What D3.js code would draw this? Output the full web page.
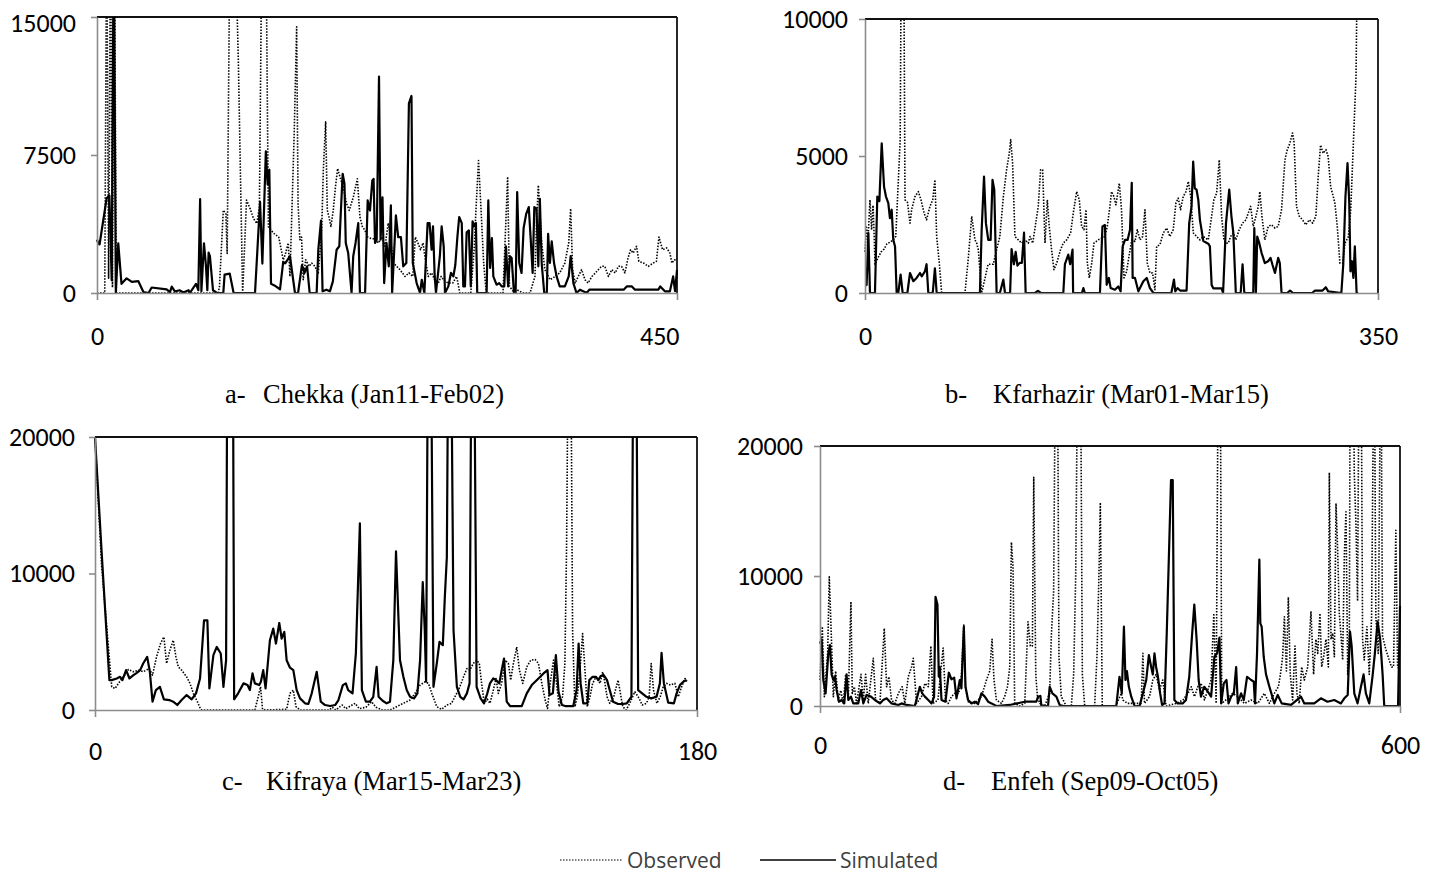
<!DOCTYPE html>
<html>
<head>
<meta charset="utf-8">
<script src="https://cdn.jsdelivr.net/npm/d3@7"></script>
<style>
  html, body { margin: 0; padding: 0; background: #ffffff; }
  svg { display: block; }
</style>
</head>
<body>
<svg id="chart" width="1431" height="875"></svg>
<script>
// ---- Discharge series: [time step, flow] ----
const chekkaObserved = [[0,0],[6,0],[7.5,20000],[9,800],[10.5,20000],[12,300],[13.5,20000],[15,0],[94,0],[95,340],[98,4500],[100,4300],[101,2150],[103.2,20000],[107,20000],[109.7,12500],[113,0],[116,5050],[118.7,4600],[121.4,4050],[124,3780],[126,4670],[128,20000],[131,20000],[133,3600],[137,3250],[141,3040],[144.5,1800],[146,2080],[148.4,2720],[149.7,900],[153,8680],[154.9,14470],[156,4850],[157.4,2900],[158.7,3040],[160,720],[161.9,1810],[164.5,1450],[166.5,1630],[169,1450],[171.7,1090],[174.3,3400],[175.6,6670],[177.4,9300],[178.7,4490],[180,4130],[181.5,3620],[183.3,4490],[185,5760],[186.7,6760],[188.5,6310],[191,5760],[193.7,4850],[195.7,4490],[198.9,5220],[202,6210],[204,4130],[205.8,3620],[207.9,3400],[210,3040],[213,2950],[215.7,2950],[218.3,2720],[221,3040],[223.4,2540],[226,3800],[228,2720],[230,1630],[232.5,1450],[235,1270],[239,900],[242,1090],[245,900],[247,3040],[249,2720],[251,2350],[253,2720],[254,2170],[257,900],[259.6,1090],[262,720],[264.8,540],[267,900],[270,630],[272.6,540],[276,540],[279,900],[281.5,0],[290,0],[292.6,2350],[294,4490],[296,7200],[298,4490],[300,1630],[302,0],[315,0],[316.5,2630],[318.6,6320],[320,360],[323,90],[325.6,180],[328,90],[330.8,0],[336,0],[339.8,900],[341,3800],[342.4,5860],[343.6,4490],[345,2720],[347.5,1270],[351.5,720],[355.5,900],[359,1090],[363,1630],[366,2720],[367.5,4580],[369,1270],[371,540],[373.4,900],[376,1270],[378.6,720],[381,540],[384,900],[386.7,1090],[389,1270],[391.5,1450],[394,1450],[396.8,900],[399.4,1270],[402,1090],[404.6,1450],[407,1450],[409.6,1090],[412,1900],[414,2350],[416,2170],[418.6,2540],[420.4,1720],[424,1630],[427.7,1450],[431.6,1630],[434,1720],[436,3040],[438.8,2350],[442,2450],[444.5,2170],[446,1630],[448,1810],[450,1750]];

const chekkaSimulated = [[0,2900],[1,2700],[2,2650],[7.5,5150],[9.6,5300],[11.4,700],[13,20000],[14.6,0],[16.5,2700],[19,500],[23,800],[27,600],[32,650],[36,50],[40,0],[42.4,300],[54,200],[56.6,50],[58,350],[60.5,80],[64,150],[67,30],[71,150],[72,0],[76.8,500],[78.6,150],[80,5100],[81,100],[83,2700],[84.5,1500],[85.6,150],[86.6,2200],[87.6,2000],[90,150],[93,0],[98,0],[99,1000],[103,1050],[106,0],[122.6,0],[126.5,4950],[128.3,1600],[131,7700],[132.4,5900],[133.7,6700],[135,500],[138,400],[142,200],[144.5,1700],[146,1610],[149.7,2000],[153.6,0],[156,0],[159,1520],[161,1090],[163,1450],[165,0],[170.4,0],[171.7,2350],[173.8,3940],[175,90],[178,180],[180.7,90],[183,630],[185.9,2350],[188,2540],[189,4130],[190.6,6480],[192,5940],[193,2720],[194.9,2170],[197.5,0],[198.8,2000],[200.6,2720],[202.7,3800],[204,0],[208,0],[210,5030],[211.8,4490],[213.6,6120],[214.6,6200],[215.7,2720],[217,2900],[218.8,11760],[220,2900],[221.5,5200],[222.8,540],[224.6,2720],[226.4,1450],[228,4760],[229,0],[231.9,4220],[233.7,3040],[235.8,3040],[237.6,1450],[240,1630],[242,10310],[244,10710],[245,1630],[248,540],[250.6,0],[252,720],[254,0],[256.5,3800],[258,3800],[259.6,2350],[260.7,3620],[262,900],[263,0],[266,2000],[267.4,3620],[269,2540],[270,0],[272.6,360],[274.6,1090],[276.5,900],[278,1520],[279.6,3040],[281,4130],[283,3800],[284.2,360],[285.5,360],[286.8,3300],[288.5,3400],[290,360],[291.4,3900],[292.6,3620],[294,3800],[295,0],[302.3,0],[303.6,5030],[305,1360],[306.4,2990],[307.5,900],[310,450],[312,540],[314,360],[316,360],[317.3,2540],[319,360],[320.4,2000],[321.7,1900],[323.5,0],[324.8,0],[326,5490],[327.6,1630],[329.4,1090],[331,3530],[333,4300],[335,4670],[336.4,3040],[338,1090],[339.3,4670],[341,4580],[342.4,1450],[343.6,5120],[345,1630],[347,0],[349,0],[350,3220],[351.4,1630],[352.8,2810],[354.6,1630],[356.6,900],[359,360],[363,360],[366,900],[367.5,2000],[369.6,540],[372,0],[374.7,180],[380,0],[382,180],[388,180],[408.6,180],[411,360],[415,360],[417.4,180],[435.5,180],[437,360],[440.6,90],[444.5,90],[447,900],[448.5,100],[450,1250]];

const kfarhazirObserved = [[0,1500],[1,2400],[2,1900],[3.4,3400],[4.5,2300],[5.5,3200],[6.2,2200],[6.8,1050],[9,1300],[11,1500],[13,1600],[15,1800],[17,1850],[19.3,1940],[21,2070],[24,5580],[25,15000],[26.2,15000],[27.3,3400],[29,3300],[30.7,2550],[31.8,3040],[34.1,3520],[36.4,3700],[38.2,3400],[40.3,2920],[42,2670],[44.3,3160],[46.2,3400],[47.7,4130],[48.9,2060],[50.7,1090],[52.3,0],[68.2,0],[70.5,1280],[72.8,2800],[73.9,2370],[75,1940],[76.2,1820],[77.3,1580],[79.6,0],[84,1050],[87.5,1050],[89.8,1580],[92,2060],[94.4,3520],[96.6,4500],[98.5,5120],[99.4,5600],[100.7,4740],[102.3,2060],[104.6,1940],[106.9,1820],[109.1,1940],[111.4,1820],[112.6,2060],[114.4,1820],[116,2370],[118.2,3160],[119.8,4500],[121.2,4500],[122.8,1820],[124.4,3400],[125.7,2430],[127.3,1580],[128.9,850],[130.8,1090],[133.4,1580],[135.3,1820],[137.6,1940],[140.3,2190],[142.1,2920],[144.4,3700],[146.2,3400],[147.8,2430],[149.4,2310],[150.8,3040],[151.7,1090],[153,550],[154.7,1090],[156.2,1820],[159.2,1940],[161.5,2000],[163.7,2060],[165.3,2430],[167.1,3160],[168.2,3700],[169.8,3520],[171.2,3220],[173.5,4010],[175,3040],[176.7,550],[178.5,790],[180.3,1400],[182,1940],[184.2,1880],[185.8,2310],[187.6,1940],[189.4,2060],[191,3040],[192.6,1090],[194.4,730],[196.2,730],[197.8,120],[199,1700],[201.2,1760],[203.5,2190],[205.8,2370],[208,2060],[210.3,2310],[212.1,3280],[213.7,3460],[215.3,3040],[217.1,3520],[219,3700],[220.6,4070],[222.2,3520],[224,2190],[226.3,2060],[228.5,1940],[230.8,2060],[234.2,1940],[236.5,2800],[238,3400],[239.9,3640],[241.7,4860],[243.3,2800],[244.9,1940],[246.3,1820],[247.9,1820],[249.4,2060],[251.3,2190],[253,1940],[255.3,2310],[257.6,2550],[259.9,2670],[261.5,2920],[263.1,3160],[264.9,2430],[266.7,2800],[268.3,3160],[269.4,3700],[270.8,2800],[272.8,1940],[275.1,2430],[277.4,2490],[279.7,2370],[281.9,2430],[284.2,3040],[286.5,4860],[288.1,5230],[289.9,5470],[291.7,5840],[292.8,5470],[294.4,3160],[296.3,2800],[298.5,2670],[300.8,2490],[303.1,2670],[305.4,2550],[307.6,2800],[309.2,4250],[310.8,5400],[312.6,5100],[314.5,5230],[316,4980],[317.7,3880],[319.5,3520],[320.6,3280],[322.2,2430],[324,1090],[325.9,1090],[327.5,1820],[329.8,2060],[331.4,3040],[333.2,5470],[335,7900],[336.5,15000]];

const kfarhazirSimulated = [[0,290],[1.1,290],[2.3,2190],[3.4,0],[6.8,0],[8.4,3520],[9.8,3350],[11.4,5460],[13,3880],[14.3,3520],[15.9,3280],[17,2730],[18.2,3040],[19.3,1940],[20.5,1700],[21.6,0],[22.7,0],[24.3,670],[25.7,0],[28.9,0],[30.7,730],[33,430],[35.2,550],[37.5,730],[38.7,610],[40.9,790],[42,1050],[43.2,0],[46.2,0],[47.7,900],[48.9,0],[78.4,0],[79.6,2310],[81.2,4250],[82.5,2550],[84.1,1940],[85.7,1940],[87,4130],[88.2,3770],[89.8,0],[92,0],[94.4,490],[95.5,0],[99,0],[100,1600],[101.6,1050],[102.8,1500],[104,1000],[105.5,1100],[107,1100],[108.5,2200],[109.6,0],[116,0],[118,80],[120,0],[135.3,0],[136.4,1050],[138.7,1400],[140,1050],[141.6,1580],[142,0],[148,0],[149,180],[150,0],[160.3,0],[162,2430],[163.7,2480],[164.9,300],[166.4,550],[167.6,180],[170.5,120],[172.8,240],[174.4,60],[175.8,1700],[177.4,1940],[179.2,1940],[180.8,2310],[182,4020],[182.6,550],[184.2,550],[186.5,60],[189.9,430],[192.2,550],[194.4,180],[196.8,0],[209,0],[210.8,490],[211.7,60],[213.2,180],[215,90],[219.4,90],[221.2,2550],[222.8,3160],[223.9,4800],[225,3820],[226.2,3770],[227.4,3400],[228.5,2670],[229.6,2310],[230.8,1900],[234.2,1800],[235.3,1700],[236.5,290],[237.6,170],[243.3,170],[244.3,0],[246.3,2550],[248.5,3770],[250,2800],[251.3,2190],[253,0],[256.3,0],[257.6,1050],[258.8,0],[264.9,0],[265.6,2370],[266.7,0],[267.6,2060],[269,1820],[270.6,1460],[272.8,1090],[275,1160],[276.7,1280],[278,1030],[279.7,730],[281.9,1280],[283,1090],[284.2,0],[288,0],[290,85],[292,0],[305,0],[307,85],[312,85],[314.4,210],[316,60],[325,0],[326.3,1050],[327.8,3520],[329.2,4740],[330.4,3280],[331.2,790],[332.2,1160],[333.2,550],[334.2,1700],[335.4,0],[336.5,0]];

const kifrayaObserved = [[0,20000],[2,10500],[5,1700],[6,1580],[7,1950],[8.5,2430],[10,2970],[11.5,2800],[13,2920],[14.4,2800],[16.2,3040],[17.2,2555],[18.4,3890],[19.6,4870],[20.6,5350],[21.4,3410],[22.4,4380],[23.4,5110],[24.2,3890],[24.9,3160],[25.9,2920],[27.4,2430],[28.4,1950],[29.4,1220],[30.6,610],[31.6,50],[32,0],[47.8,0],[48.8,970],[49.5,1700],[50.1,50],[51,0],[57.3,50],[58.3,1220],[59.3,1460],[60.1,240],[61.3,0],[70,0],[71,200],[72,0],[73.9,365],[75,100],[77.8,490],[79,100],[81,200],[82.7,610],[84,200],[86,0],[88.2,0],[92.2,490],[94.2,730],[95.7,1220],[97.2,1825],[98.7,2070],[99.7,1950],[100.7,1220],[102.2,240],[103.6,50],[105.2,365],[106.6,490],[107.6,970],[108.7,1460],[110.2,2430],[111.2,3040],[112.1,2920],[113.1,3410],[114.1,3650],[114.9,3410],[115.6,1950],[116.4,490],[117.3,800],[118.1,490],[119.1,1460],[119.9,2310],[120.6,1220],[121.6,1950],[122.6,3650],[123.6,3410],[124.3,2190],[125.1,3410],[126.1,4620],[126.9,2920],[127.9,1950],[129.1,3160],[130.3,3650],[131.6,3700],[132.6,3410],[133.6,1950],[134.6,730],[135.3,120],[136.1,1950],[137.1,3650],[138,1950],[138.8,240],[139.8,970],[140.5,3410],[141,11920],[141.6,30000],[142.2,30000],[142.8,5840],[143.5,240],[144.2,970],[145,2920],[145.8,5600],[146.5,2920],[147.2,240],[148,970],[148.8,1950],[149.8,2430],[151,1950],[151.8,2800],[152.5,1950],[153.1,970],[153.9,490],[155.1,970],[156.4,2190],[157.1,1220],[157.8,240],[158.8,0],[159.9,490],[161.4,1340],[162.7,850],[163.6,365],[164.9,490],[165.7,970],[166.3,3410],[167,1460],[168,490],[169,970],[169.9,1700],[170.9,1950],[172.1,1825],[173.4,1950],[174.4,970],[175.4,1700],[176.4,2310],[177,2100]];

const kifrayaSimulated = [[0,20000],[2,11500],[4.3,2190],[5,2190],[6.5,2310],[7.5,2430],[8.2,2190],[9.3,2920],[10.3,2310],[11.5,2555],[12.5,2725],[13.5,2920],[14.4,3410],[15.6,3890],[16.4,2800],[17.2,610],[18.2,1460],[19.4,1700],[20.6,780],[22.2,730],[23.4,610],[24.6,365],[25.9,730],[27.4,1095],[28.9,780],[30.2,1220],[31.4,2310],[32.6,6570],[33.6,6570],[34.2,1580],[35.4,4015],[36.4,4620],[37.6,4140],[38.4,1700],[39.2,3650],[39.6,30000],[41.2,30000],[41.6,780],[42.8,1220],[44.4,1950],[45.6,1825],[46.3,1460],[47.1,2680],[47.8,1950],[49.1,1825],[49.6,2070],[50.3,2920],[51,1580],[52.3,5110],[53.3,5960],[54.1,4870],[55.1,6375],[55.8,5230],[56.6,5720],[57.3,3650],[58.3,3100],[59.3,2920],[60.3,1460],[61.3,850],[62.8,490],[63.8,440],[64.8,1220],[66.3,2800],[67.5,610],[68.8,365],[70.3,290],[71.8,365],[72.8,730],[74.1,1825],[75,1950],[75.7,1460],[77,1220],[78,4140],[79.2,13670],[79.8,1460],[81,610],[82.2,610],[83.2,970],[84.2,3160],[84.8,970],[86,680],[87.2,490],[88.2,610],[89.2,3650],[90,11630],[91.2,3650],[92.2,2430],[93.2,1460],[94.2,970],[95.4,850],[96.4,1220],[97.2,3650],[98,9370],[98.6,5840],[99,2070],[99.6,30000],[100.4,30000],[101.2,1700],[102.2,3410],[103,4990],[104,4750],[104.6,8270],[105.2,11190],[105.7,30000],[106.4,30000],[107.2,5840],[108.2,1700],[109.2,970],[110.2,780],[111.2,1220],[112,1950],[112.6,30000],[113.3,30000],[114.1,1700],[115.3,850],[116.3,490],[117.3,1220],[118.1,1950],[119.1,2310],[119.9,2190],[120.9,1950],[121.6,2920],[122.3,3770],[123.1,610],[124.1,290],[127.6,290],[129.1,1220],[130.6,1825],[132.6,2310],[134.1,2680],[135.3,2920],[135.9,1095],[136.9,1220],[137.8,4015],[138.6,1340],[139.6,365],[140.6,290],[143,290],[144,1460],[144.6,4870],[145.2,1950],[146,490],[147.2,490],[147.8,2190],[148.8,2430],[149.8,2430],[150.5,2190],[151.2,2480],[152.1,2555],[153.1,2190],[153.9,1460],[154.9,610],[156.4,440],[157.8,440],[159,490],[160.4,970],[161,30000],[161.8,30000],[162.4,1460],[163.6,1220],[164.9,970],[166.3,850],[167.9,970],[168.9,1950],[169.4,4190],[170.1,1950],[171.4,535],[173.1,490],[173.9,1220],[174.9,1825],[175.9,2070],[176.9,2190]];

const enfehObserved = [[0,2000],[2.4,6100],[4.5,720],[7.9,4050],[9.6,9940],[11.4,6100],[13.8,720],[16.2,2690],[18.9,460],[21.5,1200],[24.1,200],[26.5,2430],[29.3,720],[32,8020],[33.4,970],[35.5,1480],[37.9,200],[42.4,2430],[44.8,460],[47.2,2430],[49.9,200],[55.1,3670],[57.5,460],[62,200],[63.7,2430],[66.5,5970],[68.9,1480],[71.3,2250],[74,460],[77.5,200],[81,970],[85,1480],[87.8,200],[91.3,2250],[94.7,3000],[96.5,3670],[98.1,2000],[99.9,200],[105,720],[108.5,1740],[112,1480],[114.7,4610],[117,200],[122,460],[125,2690],[127.4,4460],[129.8,460],[132.6,200],[136,720],[139.5,970],[143.6,970],[146.3,2430],[148.8,6230],[150.5,1480],[153.2,330],[160.1,200],[167,720],[172.2,2000],[175.6,2690],[178,5130],[180,2000],[182.5,460],[187.7,200],[191,720],[193.9,1480],[196.3,3000],[198,12600],[199.7,10700],[201.4,200],[206.6,0],[211.8,200],[215.2,6480],[217.6,4610],[219.7,4610],[221.1,17600],[223.2,2430],[224.9,720],[227.3,200],[232.4,0],[237.6,970],[239.3,5380],[241.7,8840],[243.8,30000],[245.5,30000],[247.2,3790],[249.6,720],[254.8,0],[260,0],[262.4,2430],[264.5,9940],[266.9,30000],[269.3,30000],[271.4,2430],[273.8,0],[284.1,0],[286.5,3790],[288.6,10200],[290,15640],[292,0],[306,0],[311.6,970],[313.4,460],[318,200],[332.3,200],[334,4050],[335.7,200],[340.9,720],[344.3,2000],[347.7,2430],[351.2,1230],[354.6,2000],[358,0],[368.6,200],[375.4,460],[380.7,970],[384,1480],[387.4,720],[390.8,1480],[394.3,1740],[397.7,460],[404.6,2000],[407.4,7120],[409.8,200],[412.2,30000],[413.9,30000],[415.6,200],[421.8,590],[427,970],[432.2,720],[439,200],[446,460],[452.9,200],[459.6,970],[464.9,200],[470,970],[474.2,1480],[476.3,2430],[478.6,3790],[480.4,6870],[482.5,2690],[484.5,8380],[486.5,2430],[488.9,460],[491.4,4610],[493.4,970],[495.8,200],[498.3,3000],[501,2000],[504.5,3000],[507.9,7250],[510.6,2430],[513,5130],[514.9,4050],[517.2,7120],[519,3000],[521,3790],[523.4,5130],[525.9,3000],[526.9,17950],[528.6,5130],[530.4,5590],[532.1,3790],[533.8,15590],[535.5,12040],[537.2,7120],[539,5380],[540.7,3540],[542.4,11530],[544.1,14940],[545.9,2430],[547.6,5590],[548.6,30000],[550,30000],[551.3,30000],[552.7,17890],[554.4,14070],[556.1,8070],[557.9,30000],[559.6,30000],[561.3,5130],[563,3540],[565.8,6100],[568.2,2430],[570.6,6870],[573.3,30000],[575,6870],[577.5,4050],[580.2,30000],[581.9,5380],[585.4,4330],[588.8,3540],[591.2,3000],[593.3,3000],[595.7,13520],[597.5,3000],[600,2800]];

const enfehSimulated = [[0,4800],[1.7,5130],[3.4,2000],[5.8,970],[8.6,4050],[10.3,4690],[12,2430],[13.8,2000],[15.5,2250],[17.2,1230],[19.6,330],[22.4,460],[25.1,200],[27.5,2430],[29.3,460],[32,720],[34.4,200],[39.6,200],[42.4,1230],[44.8,200],[48.2,850],[52.7,720],[56.8,460],[62,200],[65.4,460],[68.9,590],[74,200],[81,80],[84.4,200],[89.5,80],[98.1,0],[103.3,1480],[105.7,970],[108.5,720],[112,460],[115.4,200],[118,700],[119.5,8400],[121.5,7800],[122.9,2250],[123.9,3000],[125.7,460],[129.8,330],[133.3,2560],[136,2050],[138.8,2180],[141.2,590],[144.6,2000],[146.3,1360],[148.8,6100],[150.5,1480],[153.2,460],[156.7,200],[160.1,330],[163.6,150],[167,970],[170.5,720],[173.9,330],[177.4,200],[182.5,0],[196.3,80],[211.8,330],[223.8,330],[225.6,720],[228,770],[229,0],[235.9,0],[237.6,1480],[240.4,970],[244.5,720],[247.9,80],[252,0],[306.5,0],[309.8,2250],[312.2,970],[314.4,6100],[316,2000],[317.5,2690],[319.5,1480],[322,720],[325.4,0],[330.6,0],[334,970],[337.5,2000],[340.2,3920],[342.6,3000],[344.3,2430],[346,4050],[347.7,3000],[349.5,2300],[351.9,970],[353.9,80],[356.4,200],[358.7,5590],[361.4,12780],[363.1,17380],[364.9,17380],[366.6,460],[370,200],[375.2,200],[378.6,460],[382,2250],[384.8,5380],[387.2,7800],[389.6,5130],[391.7,2000],[394.1,720],[397.5,1480],[401.2,1100],[404.6,720],[408,3790],[410.8,4050],[413.2,5260],[415,200],[417.7,1740],[420.5,2000],[422.6,200],[425.3,720],[428.1,970],[430.5,3000],[432.2,200],[435.6,970],[438.4,460],[441.8,2250],[446,2000],[448.7,1870],[450,200],[452.1,4050],[454.5,11270],[455.5,6360],[456.9,6100],[459,3790],[461.4,2430],[464.9,1480],[470,200],[473.5,850],[477.6,200],[487.3,80],[497.6,720],[501,200],[511.3,200],[518.2,590],[525,330],[532,460],[538.9,200],[542.4,590],[545.9,850],[548.3,5720],[550,4610],[552.7,970],[556.1,200],[559.6,1480],[562.3,2430],[564.7,970],[568.2,200],[571.6,2300],[574,4050],[576.8,6490],[579.5,5130],[582,2430],[583.7,0],[598,0],[600,7700]];

// ---- Panel captions, axis ranges and tick values ----
const panelLetters = ["a-", "b-", "c-", "d-"];
const panelNames = ["Chekka (Jan11-Feb02)", "Kfarhazir (Mar01-Mar15)", "Kifraya (Mar15-Mar23)", "Enfeh (Sep09-Oct05)"];
const xMaxima = [450, 350, 180, 600];
const yTickSets = [[0, 7500, 15000], [0, 5000, 10000], [0, 10000, 20000], [0, 10000, 20000]];
const seriesNames = ["Observed", "Simulated"];

const observedSeries = [chekkaObserved, kfarhazirObserved, kifrayaObserved, enfehObserved];
const simulatedSeries = [chekkaSimulated, kfarhazirSimulated, kifrayaSimulated, enfehSimulated];

// ---- Layout ----
const boxes = [
  { l: 97,  r: 677,  t: 17,  b: 293 },
  { l: 865, r: 1378, t: 19,  b: 293 },
  { l: 95,  r: 697,  t: 437, b: 710 },
  { l: 820, r: 1400, t: 446, b: 706 }
];
const captions = [
  { lx: 225, nx: 263, y: 403 },
  { lx: 945, nx: 993, y: 403 },
  { lx: 222, nx: 266, y: 790 },
  { lx: 943, nx: 991, y: 790 }
];
const xLabelPad = [27, 27, 25, 23];
const yLabelPad = [15, 11, 14, 11];

const axisGray = "#8c8c8c";
const tickFont = "Carlito, 'Open Sans', sans-serif";
const svg = d3.select("#chart");

const obsStyle = { stroke: "#000", width: 1.6, dash: "1.5,1.5" };
const simStyle = { stroke: "#000", width: 2.2, dash: null };

boxes.forEach((box, i) => {
  const x = d3.scaleLinear().domain([0, xMaxima[i]]).range([box.l, box.r]);
  const yMax = yTickSets[i][yTickSets[i].length - 1];
  const y = d3.scaleLinear().domain([0, yMax]).range([box.b, box.t]);
  const g = svg.append("g");

  const clipId = "plot-clip-" + i;
  svg.append("defs").append("clipPath").attr("id", clipId)
    .append("rect")
    .attr("x", box.l - 2).attr("y", box.t)
    .attr("width", box.r - box.l + 4).attr("height", box.b - box.t + 3);

  // plot frame: dark top and right edges
  g.append("line").attr("x1", box.l).attr("x2", box.r).attr("y1", box.t).attr("y2", box.t)
    .attr("stroke", "#111").attr("stroke-width", 1.8);
  g.append("line").attr("x1", box.r).attr("x2", box.r).attr("y1", box.t).attr("y2", box.b)
    .attr("stroke", "#111").attr("stroke-width", 1.8);

  const line = d3.line().x(d => x(d[0])).y(d => y(d[1]));
  const plot = g.append("g").attr("clip-path", `url(#${clipId})`);

  [[observedSeries[i], obsStyle], [simulatedSeries[i], simStyle]].forEach(([data, st]) => {
    plot.append("path")
      .datum(data)
      .attr("d", line)
      .attr("fill", "none")
      .attr("stroke", st.stroke)
      .attr("stroke-width", st.width)
      .attr("stroke-linejoin", "round")
      .attr("stroke-dasharray", st.dash);
  });

  // y axis
  const gy = g.append("g").attr("transform", `translate(${box.l},0)`)
    .call(d3.axisLeft(y).tickValues(yTickSets[i]).tickSize(6).tickSizeOuter(0)
      .tickPadding(yLabelPad[i]).tickFormat(d3.format("d")));
  // x axis
  const gx = g.append("g").attr("transform", `translate(0,${box.b})`)
    .call(d3.axisBottom(x).tickValues([0, xMaxima[i]]).tickSize(7).tickSizeOuter(0)
      .tickPadding(xLabelPad[i]).tickFormat(d3.format("d")));

  [gx, gy].forEach(ax => {
    ax.select(".domain").attr("stroke", axisGray).attr("stroke-width", 1.6);
    ax.selectAll(".tick line").attr("stroke", axisGray).attr("stroke-width", 1.6);
    ax.selectAll(".tick text")
      .attr("font-family", tickFont).attr("font-size", 26).attr("fill", "#000");
  });
  if (i === 0) {
    gx.selectAll(".tick text").filter(d => d === xMaxima[0]).attr("text-anchor", "end").attr("dx", 2);
    gy.selectAll(".tick text").filter(d => d === yMax).attr("dy", "0.55em");
  }

  // caption
  g.append("text").attr("x", captions[i].lx).attr("y", captions[i].y)
    .attr("font-family", "'Liberation Serif', 'Times New Roman', serif")
    .attr("font-size", 26.5).attr("fill", "#000").text(panelLetters[i]);
  g.append("text").attr("x", captions[i].nx).attr("y", captions[i].y)
    .attr("font-family", "'Liberation Serif', 'Times New Roman', serif")
    .attr("font-size", 26.5).attr("fill", "#000").text(panelNames[i]);
});

// legend
const legend = svg.append("g");
const legendItems = [
  { name: seriesNames[0], st: obsStyle, x1: 560, x2: 622, tx: 627 },
  { name: seriesNames[1], st: simStyle, x1: 760, x2: 836, tx: 840 }
];
legendItems.forEach(it => {
  legend.append("line").attr("x1", it.x1).attr("x2", it.x2).attr("y1", 860).attr("y2", 860)
    .attr("stroke", it.st.stroke).attr("stroke-width", it.st === simStyle ? 1.6 : 1.2)
    .attr("stroke-dasharray", it.st.dash);
  legend.append("text").attr("x", it.tx).attr("y", 868)
    .attr("font-family", "'Open Sans', 'Noto Sans', sans-serif")
    .attr("font-size", 21).attr("fill", "#404040").text(it.name);
});
</script>
</body>
</html>
